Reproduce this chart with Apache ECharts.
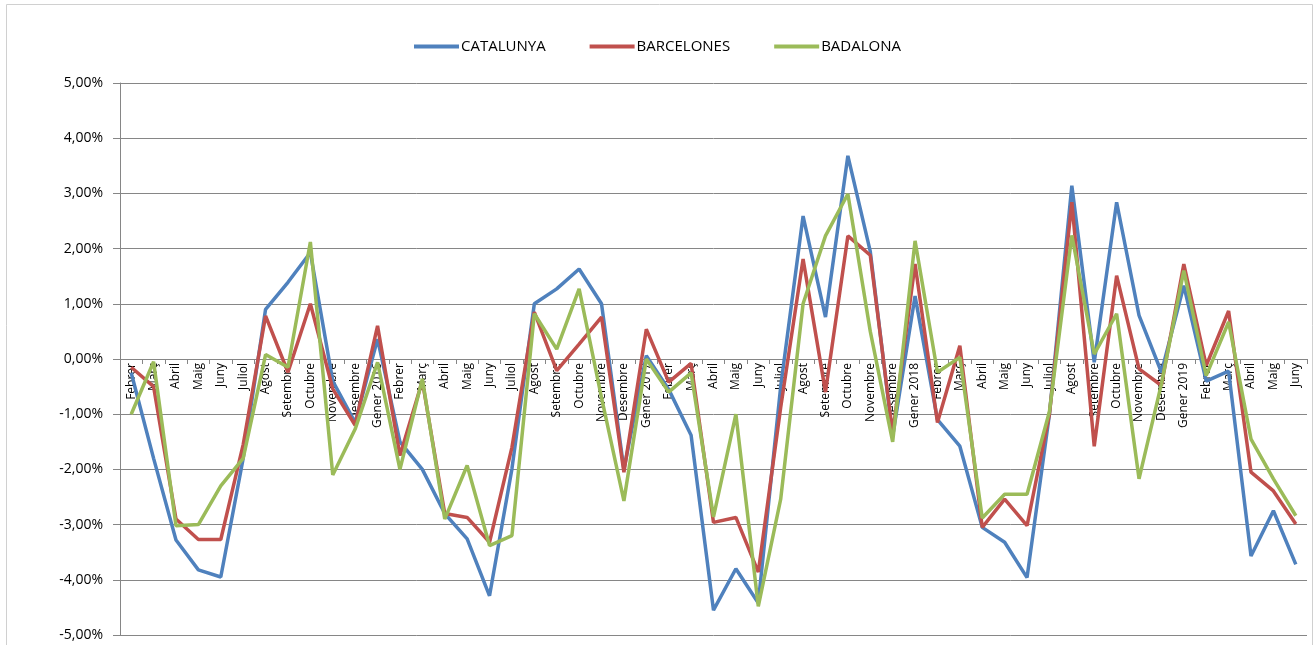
<!DOCTYPE html>
<html>
<head>
<meta charset="utf-8">
<script src="https://cdn.jsdelivr.net/npm/echarts@6/dist/echarts.min.js"></script>
<style>
html,body{margin:0;padding:0;background:#fff;}
#chart{width:1315px;height:645px;}
</style>
</head>
<body>
<div id="chart"></div>
<script>
const categories = ["Febrer","Març","Abril","Maig","Juny","Juliol","Agost","Setembre","Octubre","Novembre","Desembre",
"Gener 2016","Febrer","Març","Abril","Maig","Juny","Juliol","Agost","Setembre","Octubre","Novembre","Desembre",
"Gener 2017","Febrer","Març","Abril","Maig","Juny","Juliol","Agost","Setembre","Octubre","Novembre","Desembre",
"Gener 2018","Febrer","Març","Abril","Maig","Juny","Juliol","Agost","Setembre","Octubre","Novembre","Desembre",
"Gener 2019","Febrer","Març","Abril","Maig","Juny"];

const catalunya = [-0.25,-1.8,-3.28,-3.82,-3.95,-1.8,0.9,1.39,1.93,-0.4,-1.15,
0.36,-1.5,-2.0,-2.8,-3.26,-4.29,-1.99,1.0,1.27,1.63,1.0,-2.0,
0.06,-0.55,-1.38,-4.55,-3.8,-4.42,-0.5,2.59,0.76,3.68,1.95,-1.4,
1.14,-1.1,-1.58,-3.05,-3.32,-3.96,-1.0,3.14,-0.06,2.84,0.79,-0.24,
1.33,-0.4,-0.22,-3.57,-2.75,-3.72];

const barcelones = [-0.15,-0.5,-2.9,-3.27,-3.27,-1.55,0.78,-0.24,1.0,-0.54,-1.2,
0.6,-1.75,-0.4,-2.8,-2.87,-3.32,-1.6,0.85,-0.21,0.27,0.76,-2.05,
0.54,-0.42,-0.08,-2.96,-2.87,-3.86,-0.88,1.81,-0.6,2.23,1.88,-1.35,
1.72,-1.15,0.24,-3.05,-2.54,-3.02,-1.0,2.84,-1.58,1.51,-0.18,-0.48,
1.72,-0.12,0.87,-2.05,-2.39,-2.99];

const badalona = [-1.0,-0.05,-3.02,-3.0,-2.3,-1.8,0.08,-0.15,2.12,-2.1,-1.27,
-0.06,-2.0,-0.36,-2.9,-1.93,-3.38,-3.2,0.82,0.18,1.27,-0.7,-2.57,
0.0,-0.6,-0.25,-2.86,-1.0,-4.48,-2.54,1.0,2.23,2.99,0.5,-1.5,
2.14,-0.24,0.03,-2.88,-2.45,-2.45,-0.95,2.24,0.09,0.82,-2.17,-0.45,
1.6,-0.3,0.67,-1.45,-2.17,-2.84];

const seriesNames = ["CATALUNYA","BARCELONES","BADALONA"];
const colors = ["#4F81BD","#C0504D","#9BBB59"];
const seriesData = [catalunya, barcelones, badalona];

const chart = echarts.init(document.getElementById('chart'));
const fontFam = '"Open Sans", "DejaVu Sans", sans-serif';
const yMin = -5, yMax = 5;
const gridTop = 83, gridBottom = 10, H = 645;
// place category axis on the zero line (offset from bottom edge of grid)
const gridH = H - gridTop - gridBottom;
const zeroOffset = -gridH * (0 - yMin) / (yMax - yMin);

chart.setOption({
  animation: false,
  backgroundColor: '#fff',
  graphic: [{
    type: 'rect', left: 4, top: 2, shape: {width: 1306, height: 660},
    style: {fill: 'none', stroke: '#d0d0d0', lineWidth: 1}, silent: true
  }],
  legend: {
    top: 34, left: 'center',
    itemWidth: 45, itemHeight: 4, itemGap: 44,
    icon: 'rect',
    textStyle: {fontFamily: fontFam, fontSize: 15, color: '#000', padding:[0,0,0,-3]},
    data: seriesNames
  },
  grid: {left: 120, right: 8, top: gridTop, bottom: gridBottom, containLabel: false, outerBoundsMode: 'none'},
  xAxis: {
    type: 'category',
    data: categories,
    boundaryGap: true,
    position: 'bottom',
    offset: zeroOffset,
    axisLine: {onZero: false, lineStyle: {color: '#868686', width: 1}},
    axisTick: {show: true, length: 5, interval: 0, lineStyle: {color: '#868686'}},
    axisLabel: {interval: 0, rotate: 90, fontFamily: fontFam, fontSize: 12, color: '#000', margin: 4},
    splitLine: {show: false}
  },
  yAxis: {
    type: 'value', min: yMin, max: yMax, interval: 1,
    axisLine: {show: true, lineStyle: {color: '#868686'}},
    axisTick: {show: true, length: 7, lineStyle: {color: '#868686'}},
    axisLabel: {fontFamily: fontFam, fontSize: 14, color: '#000', margin: 17,
      formatter: v => v.toFixed(2).replace('.', ',') + '%'},
    splitLine: {show: true, lineStyle: {color: '#868686', width: 1}}
  },
  series: seriesNames.map((n, i) => ({
    name: n, type: 'line', data: seriesData[i],
    symbol: 'none', showSymbol: false,
    lineStyle: {color: colors[i], width: 3.5},
    itemStyle: {color: colors[i]}
  }))
});
</script>
</body>
</html>
